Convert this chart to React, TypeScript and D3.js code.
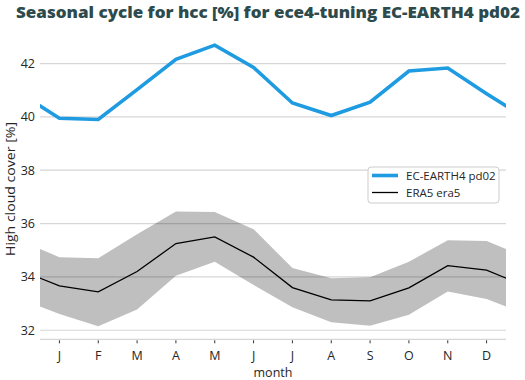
import React from "react";
import * as d3 from "d3";

const months = ["J", "F", "M", "A", "M", "J", "J", "A", "S", "O", "N", "D"];
const ecEarth = [39.95, 39.9, 41.02, 42.16, 42.69, 41.85, 40.52, 40.05, 40.55, 41.72, 41.83, 40.87];
const era5 = [33.66, 33.44, 34.2, 35.25, 35.5, 34.74, 33.6, 33.14, 33.1, 33.59, 34.42, 34.25];
const era5Upper = [34.74, 34.7, 35.6, 36.45, 36.43, 35.79, 34.33, 33.95, 33.99, 34.57, 35.37, 35.35];
const era5Lower = [32.61, 32.15, 32.78, 34.04, 34.57, 33.7, 32.86, 32.3, 32.17, 32.58, 33.45, 33.17];
const yTicks = [32, 34, 36, 38, 40, 42];

const W = 525, H = 380;
const left = 40, right = 506, top = 31, bottom = 339.3;

// wrap periodic series: month 0 = Dec, month 13 = Jan
const wrap = (a: number[]) => [a[11], ...a, a[0]];

export default function App() {
  const x = d3.scaleLinear().domain([0.5, 12.5]).range([left, right]);
  const y = d3.scaleLinear().domain([31.66, 43.22]).range([bottom, top]);
  const idx = d3.range(0, 14);
  const ec = wrap(ecEarth), er = wrap(era5), up = wrap(era5Upper), lo = wrap(era5Lower);
  const ecPath = d3.line<number>().x((_, i) => x(i)).y((v) => y(v))(ec) || "";
  const erPath = d3.line<number>().x((_, i) => x(i)).y((v) => y(v))(er) || "";
  const bandPath = d3.area<number>().x((i) => x(i)).y0((i) => y(lo[i])).y1((i) => y(up[i]))(idx) || "";
  const font = "'Open Sans', 'DejaVu Sans', sans-serif";
  return (
    <svg width={W} height={H} style={{ position: "absolute", left: 0, top: 0, background: "#fff" }} fontFamily={font}>
      <defs>
        <clipPath id="plot">
          <rect x={left} y={top - 10} width={right - left} height={bottom - top + 10} />
        </clipPath>
      </defs>
      <text x={268} y={18} textAnchor="middle" fontSize={16} fontWeight={800} fill="#2d4a4c"
        textLength={504} lengthAdjust="spacingAndGlyphs">
        Seasonal cycle for hcc [%] for ece4-tuning EC-EARTH4 pd02
      </text>
      {yTicks.map((t) => (
        <g key={t}>
          <line x1={left} x2={right} y1={y(t)} y2={y(t)} stroke="#d6d6d6" strokeWidth={1.2} />
          <text x={35} y={y(t)} dy="0.35em" textAnchor="end" fontSize={12.5} fill="#262626">{t}</text>
        </g>
      ))}
      <line x1={left} x2={right} y1={bottom} y2={bottom} stroke="#d6d6d6" strokeWidth={1.2} />
      <g clipPath="url(#plot)">
        <path d={bandPath} fill="#000" fillOpacity={0.25} />
        <path d={erPath} fill="none" stroke="#000" strokeWidth={1.3} />
        <path d={ecPath} fill="none" stroke="#1e9be1" strokeWidth={3.6} strokeLinejoin="miter" />
      </g>
      {months.map((m, i) => (
        <g key={i}>
          <line x1={x(i + 1)} x2={x(i + 1)} y1={bottom + 1} y2={bottom + 4} stroke="#333" strokeWidth={1} />
          <text x={x(i + 1)} y={356} dy="0.35em" textAnchor="middle" fontSize={12.5} fill="#262626">{m}</text>
        </g>
      ))}
      <text x={273} y={373} dy="0.35em" textAnchor="middle" fontSize={12.5} fill="#262626">month</text>
      <text transform={`translate(10,189) rotate(-90)`} dy="0.35em" textAnchor="middle" fontSize={13} fill="#262626"
        textLength={134} lengthAdjust="spacingAndGlyphs">
        High cloud cover [%]
      </text>
      <g>
        <rect x={368} y={167} width={131} height={36} rx={3} fill="#fff" stroke="#cccccc" strokeWidth={1} />
        <line x1={372} x2={398} y1={175.5} y2={175.5} stroke="#1e9be1" strokeWidth={3.6} />
        <text x={406} y={175.5} dy="0.35em" fontSize={11.5} fill="#262626">EC-EARTH4 pd02</text>
        <line x1={372} x2={398} y1={192.5} y2={192.5} stroke="#000" strokeWidth={1.3} />
        <text x={406} y={192.5} dy="0.35em" fontSize={11.5} fill="#262626">ERA5 era5</text>
      </g>
    </svg>
  );
}
